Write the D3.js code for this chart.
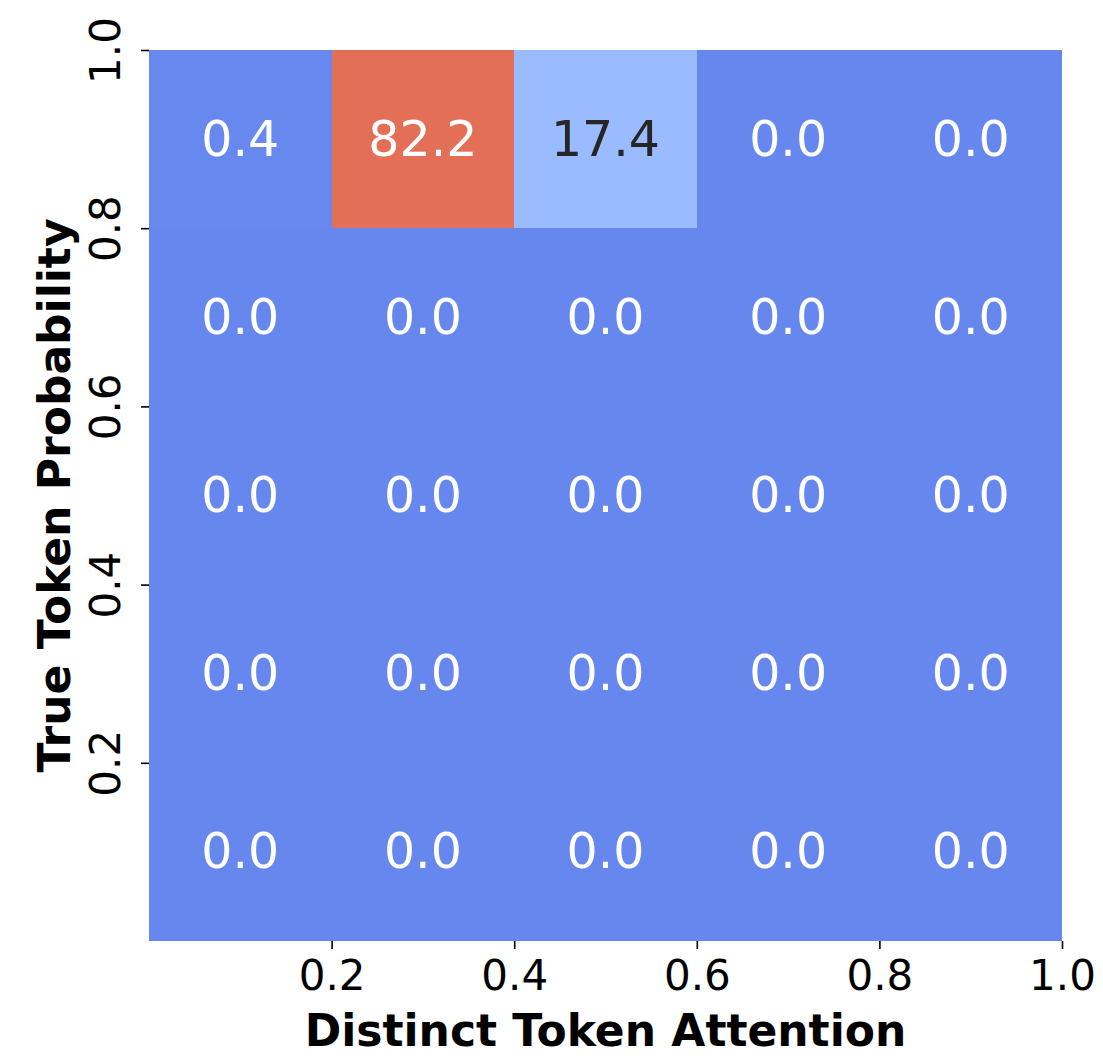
<!DOCTYPE html>
<html>
<head>
<meta charset="utf-8">
<script src="https://cdn.jsdelivr.net/npm/d3@7"></script>
<style>
  html, body { margin: 0; padding: 0; background: #fff; }
  svg { display: block; font-family: "DejaVu Sans", sans-serif; }
</style>
</head>
<body>
<svg id="chart" width="1103" height="1056"></svg>
<script>
// Bin edges along each axis (upper edge of each bin)
const xBins = [0.2, 0.4, 0.6, 0.8, 1.0];
const yBins = [1.0, 0.8, 0.6, 0.4, 0.2];   // top row first
const xTicks = [0.2, 0.4, 0.6, 0.8, 1.0];
const yTicks = [0.2, 0.4, 0.6, 0.8, 1.0];

// Percentage of samples per cell, rows from top (0.8–1.0) to bottom (0.0–0.2)
const row1 = [0.4, 82.2, 17.4, 0.0, 0.0];
const row2 = [0.0, 0.0, 0.0, 0.0, 0.0];
const row3 = [0.0, 0.0, 0.0, 0.0, 0.0];
const row4 = [0.0, 0.0, 0.0, 0.0, 0.0];
const row5 = [0.0, 0.0, 0.0, 0.0, 0.0];
const values = [row1, row2, row3, row4, row5];

const xLabel = "Distinct Token Attention";
const yLabel = "True Token Probability";

// coolwarm colormap stops
const coolwarm = [
  [59,76,192],[68,90,204],[77,104,215],[87,117,225],[98,130,234],[108,142,241],
  [119,154,247],[130,165,251],[141,176,254],[152,185,255],[163,194,255],[174,201,253],
  [184,208,249],[194,213,244],[204,217,238],[213,219,230],[221,221,221],[229,216,209],
  [236,211,197],[241,204,185],[245,196,173],[247,187,160],[247,177,148],[247,166,135],
  [244,154,123],[241,141,111],[236,127,99],[229,112,88],[222,96,77],[213,80,66],
  [203,62,56],[192,40,47],[180,4,38]
].map(c => d3.rgb(c[0], c[1], c[2]).formatHex());
const coolwarmInterp = d3.piecewise(d3.interpolateRgb, coolwarm);
const color = d3.scaleSequential(coolwarmInterp).domain([-16, 100]).clamp(true);

const svg = d3.select("#chart");
const plotLeft = 149, plotRight = 1062, plotTop = 50, plotBottom = 941;

const x = d3.scaleLinear().domain([0, 1]).range([plotLeft, plotRight]);
const y = d3.scaleLinear().domain([0, 1]).range([plotBottom, plotTop]);

const cells = [];
values.forEach((row, r) => row.forEach((v, c) => {
  cells.push({ x0: xBins[c] - 0.2, x1: xBins[c], y0: yBins[r] - 0.2, y1: yBins[r], v });
}));

const g = svg.append("g");
g.selectAll("rect").data(cells).join("rect")
  .attr("x", d => x(d.x0))
  .attr("y", d => y(d.y1))
  .attr("width", d => x(d.x1) - x(d.x0))
  .attr("height", d => y(d.y0) - y(d.y1))
  .attr("fill", d => color(d.v))
  .attr("shape-rendering", "crispEdges");

function textColor(fill) {
  const c = d3.rgb(fill);
  const lum = ch => { ch /= 255; return ch <= 0.03928 ? ch / 12.92 : Math.pow((ch + 0.055) / 1.055, 2.4); };
  const L = 0.2126 * lum(c.r) + 0.7152 * lum(c.g) + 0.0722 * lum(c.b);
  return L > 0.408 ? "#262626" : "#ffffff";
}

g.selectAll("text.annot").data(cells).join("text")
  .attr("class", "annot")
  .attr("x", d => x((d.x0 + d.x1) / 2))
  .attr("y", d => y((d.y0 + d.y1) / 2))
  .attr("text-anchor", "middle")
  .attr("dominant-baseline", "central")
  .attr("font-size", 49)
  .attr("fill", d => textColor(color(d.v)))
  .text(d => d.v.toFixed(1));

// X axis
const xAxis = d3.axisBottom(x).tickValues(xTicks).tickFormat(d3.format(".1f")).tickSize(8).tickPadding(9);
const gx = svg.append("g").attr("transform", `translate(0,${plotBottom})`).call(xAxis);
gx.select(".domain").remove();
gx.selectAll(".tick line").attr("stroke", "#000").attr("stroke-width", 1.6);
gx.selectAll(".tick text").attr("font-size", 42).attr("fill", "#000")
  .attr("font-family", "DejaVu Sans, sans-serif").attr("dy", "0.76em");

// Y axis
const yAxis = d3.axisLeft(y).tickValues(yTicks).tickFormat(d3.format(".1f")).tickSize(8).tickPadding(0);
const gy = svg.append("g").attr("transform", `translate(${plotLeft},0)`).call(yAxis);
gy.select(".domain").remove();
gy.selectAll(".tick line").attr("stroke", "#000").attr("stroke-width", 1.6);
gy.selectAll(".tick text")
  .attr("font-size", 42).attr("fill", "#000")
  .attr("font-family", "DejaVu Sans, sans-serif")
  .attr("x", null).attr("dy", null)
  .attr("text-anchor", "middle")
  .attr("transform", "translate(-29,0) rotate(-90)")
  .attr("y", 0);

// Axis titles
svg.append("text")
  .attr("x", (plotLeft + plotRight) / 2)
  .attr("y", 1046)
  .attr("text-anchor", "middle")
  .attr("font-size", 44)
  .attr("font-weight", "bold")
  .attr("fill", "#000")
  .text(xLabel);

svg.append("text")
  .attr("transform", `translate(70,${(plotTop + plotBottom) / 2}) rotate(-90)`)
  .attr("text-anchor", "middle")
  .attr("font-size", 44)
  .attr("font-weight", "bold")
  .attr("fill", "#000")
  .text(yLabel);
</script>
</body>
</html>
